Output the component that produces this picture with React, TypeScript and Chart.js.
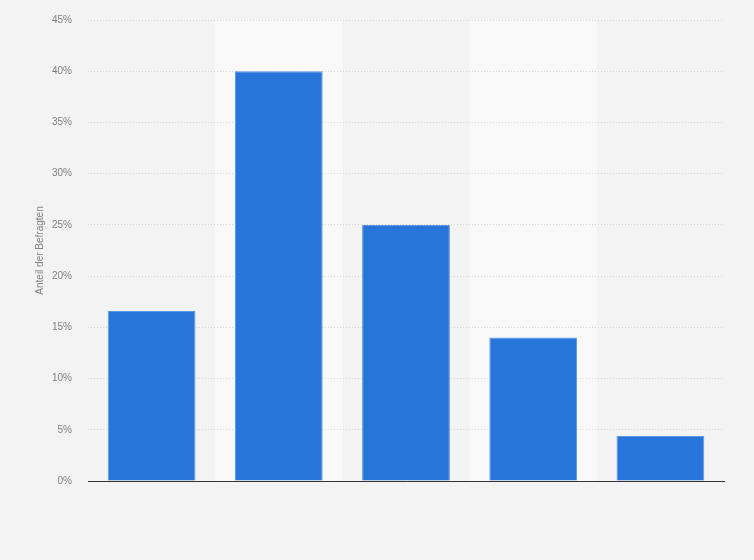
import React, { useEffect, useRef } from 'react';
import { Chart, registerables, Plugin } from 'chart.js';

Chart.register(...registerables);

// five answer categories, no labels shown in the picture
const categories = ['1', '2', '3', '4', '5'];
const shares = [16.6, 40.0, 25.0, 14.0, 4.4];
const yTicks = [0, 5, 10, 15, 20, 25, 30, 35, 40, 45];

// lighter background behind every second column (drawn under the grid)
const bandPlugin: Plugin<'bar'> = {
    id: 'bands',
    beforeDraw(chart) {
        const { ctx, chartArea, scales } = chart;
        const x = scales.x;
        const step = x.getPixelForValue(1) - x.getPixelForValue(0);
        ctx.save();
        ctx.fillStyle = '#f9f9f9';
        categories.forEach((_, i) => {
            if (i % 2 === 1) {
                const c = x.getPixelForValue(i);
                ctx.fillRect(c - step / 2, chartArea.top, step, chartArea.bottom - chartArea.top);
            }
        });
        ctx.restore();
    },
};

const App: React.FC = () => {
    const canvasRef = useRef<HTMLCanvasElement>(null);
    const chartRef = useRef<Chart | null>(null);

    useEffect(() => {
        document.body.style.margin = '0';
        document.body.style.background = '#f3f3f3';
        if (!canvasRef.current) return;
        if (chartRef.current) chartRef.current.destroy();

        chartRef.current = new Chart(canvasRef.current, {
            type: 'bar',
            data: {
                labels: categories,
                datasets: [{
                    data: shares,
                    backgroundColor: '#2775db',
                    borderColor: '#5b96e6',
                    borderWidth: 1,
                    barPercentage: 0.69,
                    categoryPercentage: 1,
                }],
            },
            options: {
                responsive: false,
                animation: false,
                layout: { padding: { left: 30, right: 30, top: 20, bottom: 79 } },
                plugins: {
                    legend: { display: false },
                    tooltip: { enabled: false },
                },
                scales: {
                    x: {
                        grid: { display: false },
                        ticks: { display: false },
                        border: { color: '#333333', width: 1 },
                        afterFit(scale) { scale.height = 0; },
                    },
                    y: {
                        min: 0,
                        max: 45,
                        afterBuildTicks(scale) {
                            scale.ticks = yTicks.map(v => ({ value: v }));
                        },
                        afterFit(scale) {
                            scale.width = 58;
                            scale.paddingTop = 0;
                            scale.paddingBottom = 0;
                        },
                        grid: { color: '#d6d6d6', drawTicks: false, lineWidth: 1 },
                        border: { display: false, dash: [1, 2] },
                        ticks: {
                            padding: 16,
                            color: '#808080',
                            font: { family: 'Arial, "Liberation Sans", sans-serif', size: 10 },
                            callback: v => v + '%',
                        },
                        title: {
                            display: true,
                            text: 'Anteil der Befragten',
                            color: '#808080',
                            padding: { top: 4, bottom: 0 },
                            font: { family: 'Arial, "Liberation Sans", sans-serif', size: 10 },
                        },
                    },
                },
            },
            plugins: [bandPlugin],
        });

        return () => {
            if (chartRef.current) {
                chartRef.current.destroy();
                chartRef.current = null;
            }
        };
    }, []);

    return (
        <div style={{ width: 754, height: 560, background: '#f3f3f3' }}>
            <canvas ref={canvasRef} width={754} height={560} style={{ display: 'block' }} />
        </div>
    );
};

export default App;
